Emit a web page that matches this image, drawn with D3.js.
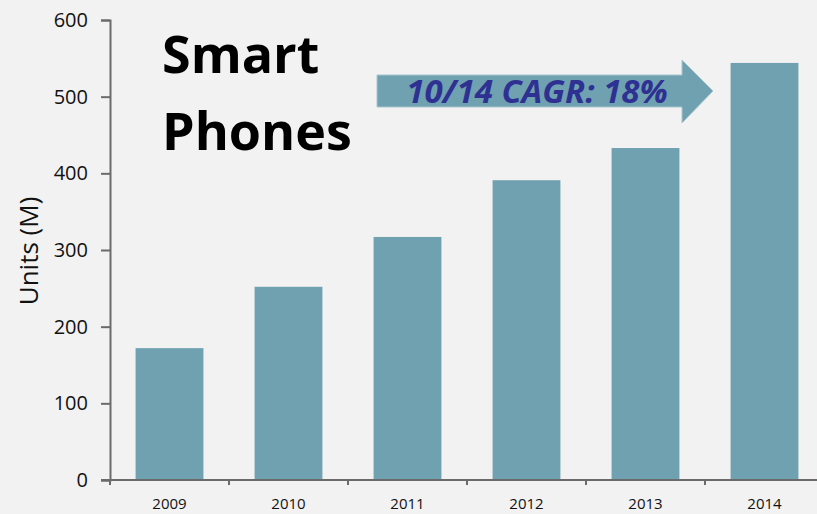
<!DOCTYPE html>
<html>
<head>
<meta charset="utf-8">
<script src="https://cdn.jsdelivr.net/npm/d3@7"></script>
<style>
  html, body { margin: 0; padding: 0; background: #f2f2f2; }
  svg { display: block; }
</style>
</head>
<body>
<div id="chart"></div>
<script>
const years = ["2009", "2010", "2011", "2012", "2013", "2014"];
const units = [172, 252, 317, 391, 433, 544];
const yTicks = [0, 100, 200, 300, 400, 500, 600];
const titleLines = ["Smart", "Phones"];
const cagrLabel = "10/14 CAGR: 18%";

const width = 817, height = 514;
const margin = { top: 20, right: -7, bottom: 34, left: 110 };
const font = "'Open Sans', sans-serif";

const svg = d3.select("#chart").append("svg")
  .attr("width", width)
  .attr("height", height);

const x = d3.scaleBand()
  .domain(years)
  .range([margin.left, width - margin.right])
  .paddingInner(0.43)
  .paddingOuter(0.215);

const y = d3.scaleLinear()
  .domain([0, 600])
  .range([height - margin.bottom, margin.top]);

const data = years.map((yr, i) => ({ year: yr, value: units[i] }));

svg.selectAll("rect.bar")
  .data(data)
  .enter()
  .append("rect")
  .attr("class", "bar")
  .attr("x", d => x(d.year))
  .attr("width", x.bandwidth())
  .attr("y", d => y(d.value))
  .attr("height", d => y(0) - y(d.value))
  .attr("fill", "#6fa1b0");

// y axis
const yAxis = svg.append("g")
  .attr("transform", `translate(${margin.left},0)`)
  .call(d3.axisLeft(y).tickValues(yTicks).tickSize(9).tickPadding(13));
yAxis.selectAll("text")
  .style("font-family", font)
  .style("font-size", "20px")
  .attr("fill", "#111");

// x axis, ticks sit between the bars
const gap = (x.step() - x.bandwidth()) / 2;
const xAxis = svg.append("g")
  .attr("transform", `translate(0,${y(0)})`);
xAxis.append("line")
  .attr("x1", margin.left - 9).attr("x2", width)
  .attr("y1", 0).attr("y2", 0);
xAxis.selectAll("line.tk")
  .data(years)
  .enter()
  .append("line")
  .attr("class", "tk")
  .attr("x1", d => x(d) - gap)
  .attr("x2", d => x(d) - gap)
  .attr("y1", 0).attr("y2", 5);
xAxis.selectAll("text")
  .data(years)
  .enter()
  .append("text")
  .attr("x", d => x(d) + x.bandwidth() / 2)
  .attr("y", 29)
  .attr("text-anchor", "middle")
  .style("font-family", font)
  .style("font-size", "15px")
  .attr("fill", "#111")
  .text(d => d);

svg.selectAll(".domain, .tick line, g line")
  .attr("stroke", "#6b6b6b")
  .attr("stroke-width", 2);

// axis title
svg.append("text")
  .attr("transform", `translate(38,251) rotate(-90)`)
  .attr("text-anchor", "middle")
  .style("font-family", font)
  .style("font-size", "26px")
  .attr("fill", "#111")
  .text("Units (M)");

// big title
svg.selectAll("text.title")
  .data(titleLines)
  .enter()
  .append("text")
  .attr("class", "title")
  .attr("x", 162)
  .attr("y", (d, i) => 73 + i * 77)
  .style("font-family", font)
  .style("font-weight", "bold")
  .style("font-size", "52px")
  .attr("fill", "#000")
  .text(d => d);

// CAGR arrow
const arrow = d3.path();
arrow.moveTo(377, 75);
arrow.lineTo(682, 75);
arrow.lineTo(682, 60);
arrow.lineTo(713, 91);
arrow.lineTo(682, 123);
arrow.lineTo(682, 107);
arrow.lineTo(377, 107);
arrow.closePath();
svg.append("path")
  .attr("d", arrow.toString())
  .attr("fill", "#6fa1b0")
  .attr("stroke", "#a9c6cf")
  .attr("stroke-width", 1);

svg.append("text")
  .attr("x", 537)
  .attr("y", 103)
  .attr("text-anchor", "middle")
  .style("font-family", font)
  .style("font-weight", "bold")
  .style("font-style", "italic")
  .style("font-size", "33px")
  .attr("fill", "#2e3192")
  .text(cagrLabel);
</script>
</body>
</html>
